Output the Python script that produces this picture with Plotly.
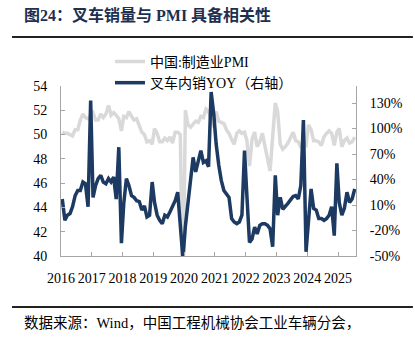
import pandas as pd
import plotly.graph_objects as go

# China manufacturing PMI (left axis), monthly from 2016-03
pmi = [
    50.2, 50.1, 50.1, 50.0, 49.9, 50.4, 50.4, 51.2, 51.7, 51.4,
    51.3, 51.6, 51.8, 51.2, 51.2, 51.7, 51.4, 51.7, 52.4, 51.6, 51.8, 51.6,
    51.3, 50.3, 51.5, 51.4, 51.9, 51.5, 51.2, 51.3, 50.8, 50.2, 50.0, 49.4,
    49.5, 49.2, 50.5, 50.1, 49.4, 49.4, 49.7, 49.5, 49.8, 49.3, 50.2, 50.2,
    50.0, 35.7, 52.0, 50.8, 50.6, 50.9, 51.1, 51.0, 51.5, 51.4, 52.1, 51.9,
    51.3, 50.6, 51.9, 51.1, 51.0, 50.9, 50.4, 50.1, 49.6, 49.2, 50.1, 50.3,
    50.1, 50.2, 49.5, 47.4, 49.6, 50.2, 49.0, 49.4, 50.1, 49.2, 48.0, 47.0,
    50.1, 52.6, 51.9, 49.2, 48.8, 49.0, 49.3, 49.7, 50.2, 49.5, 49.4, 49.0,
    49.2, 49.1, 50.8, 50.4, 49.5, 49.5, 49.4, 49.1, 49.8, 50.1, 50.3, 50.1,
    49.1, 50.2, 50.5, 49.0, 49.5, 49.7, 49.3, 49.4, 49.8,
]

# Forklift domestic sales YoY, % (right axis)
yoy = [
    17, -8, -2, 0, 8, 21, 27, 27, 37, 35,
    8, 133, 19, 33, 41, 45, 37, 35, 41, 37, 43, 17,
    78, -35, 12, 41, 33, 21, 19, 15, 14, 4, 9, -4,
    -2, 37, 13, -2, -8, -12, -2, -4, 2, 8, 15, 25,
    -10, -53, -15, 12, 35, 66, 49, 62, 74, 60, 62, 55,
    143, 117, 82, 57, 39, 27, 23, 19, -6, -10, -12, -10,
    -2, 74, 21, -34, -30, -16, -24, -14, -12, -12, -14, -18,
    -39, 45, -2, 19, 5, 8, 12, 16, 20, 21, 17, 33,
    110, -45, -2, 29, 6, 4, -6, -6, -8, -6, -2, 8,
    -26, 59, 13, -2, 6, 25, 13, 17, 29,
]

months = pd.date_range("2016-03-01", periods=len(pmi), freq="MS")
years = list(range(2016, 2026))
year_ticks = [f"{y}-02-15" for y in years]
year_labels = [str(y) for y in years]
pct_ticks = [-50, -20, 10, 40, 70, 100, 130]
pct_labels = [f"{v}%" for v in pct_ticks]

NAVY = "#1c3a62"
GRAY = "#d9d9d9"
AXIS = "#a6a6a6"
SERIF = "Liberation Serif, 'Times New Roman', 'Noto Sans CJK SC', serif"

fig = go.Figure()
fig.add_trace(go.Scatter(
    x=months, y=pmi, name="中国:制造业PMI", mode="lines",
    line=dict(color=GRAY, width=3.5),
))
fig.add_trace(go.Scatter(
    x=months, y=yoy, name="叉车内销YOY（右轴）", mode="lines",
    line=dict(color=NAVY, width=3.5), yaxis="y2",
))

axis_common = dict(
    showline=True, linecolor=AXIS, linewidth=1, showgrid=False,
    zeroline=False, ticks="inside", ticklen=4, tickcolor=AXIS,
)

fig.update_layout(
    width=415, height=337,
    margin=dict(l=61, r=59, t=86, b=81),
    paper_bgcolor="white", plot_bgcolor="white",
    font=dict(family=SERIF, size=14, color="#000000"),
    showlegend=True,
    legend=dict(
        x=0.166, y=1.236, xanchor="left", yanchor="top",
        bgcolor="rgba(0,0,0,0)", font=dict(size=14), tracegroupgap=0,
    ),
    xaxis=dict(
        type="date", range=["2016-02-15", "2025-09-16"],
        tickvals=year_ticks, ticktext=year_labels,
        ticklabelstandoff=9, **axis_common,
    ),
    yaxis=dict(
        range=[40, 54], tick0=40, dtick=2,
        ticklabelstandoff=10, **axis_common,
    ),
    yaxis2=dict(
        range=[-50, 150], overlaying="y", side="right",
        tickvals=pct_ticks, ticktext=pct_labels,
        ticklabelstandoff=10, **axis_common,
    ),
    annotations=[
        dict(
            text="<b>图24：叉车销量与 PMI 具备相关性</b>",
            xref="paper", yref="paper", x=-0.132, y=1.418,
            xanchor="left", yanchor="middle", showarrow=False,
            font=dict(size=16, color="#1f2f4f"),
        ),
        dict(
            text="数据来源：Wind，中国工程机械协会工业车辆分会，",
            xref="paper", yref="paper", x=-0.132, y=-0.394,
            xanchor="left", yanchor="middle", showarrow=False,
            font=dict(size=14.5, color="#000000"),
        ),
    ],
    shapes=[
        dict(type="line", xref="paper", yref="paper",
             x0=-0.166, x1=1.193, y0=1.288, y1=1.288,
             line=dict(color="#222222", width=2)),
        dict(type="line", xref="paper", yref="paper",
             x0=-0.166, x1=1.193, y0=-0.30, y1=-0.30,
             line=dict(color="#222222", width=2)),
    ],
)

fig.write_html("out.html")
